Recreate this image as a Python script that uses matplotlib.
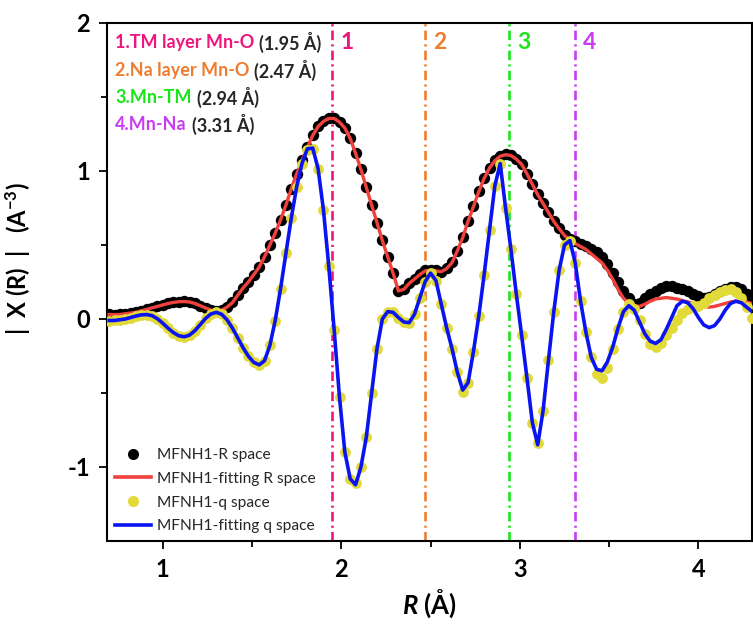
import numpy as np
import matplotlib
matplotlib.use("Agg")
import matplotlib.pyplot as plt
from matplotlib.lines import Line2D

plt.rcParams['font.family'] = ['Lato', 'DejaVu Sans']
plt.rcParams['mathtext.fontset'] = 'custom'
plt.rcParams['mathtext.rm'] = 'Lato:bold'
plt.rcParams['mathtext.it'] = 'Lato:bold:italic'
plt.rcParams['mathtext.bf'] = 'Lato:bold'

# ---------------- data ----------------
R_start, R_step, R_count = 0.70, 0.03, 121
R = np.round(R_start + R_step * np.arange(R_count), 3)

R_space = [0.032, 0.030, 0.031, 0.036, 0.041, 0.047, 0.056, 0.066,
           0.076, 0.086, 0.096, 0.106, 0.113, 0.118, 0.119,
           0.116, 0.106, 0.091, 0.076, 0.062, 0.052,
           0.060, 0.082, 0.112, 0.160, 0.210, 0.252, 0.300, 0.352,
           0.420, 0.500, 0.582, 0.672, 0.772, 0.880, 0.982, 1.072, 1.160,
           1.242, 1.302, 1.338, 1.358, 1.356, 1.332, 1.290, 1.222, 1.122,
           1.012, 0.892, 0.772, 0.652, 0.532, 0.422, 0.312, 0.192, 0.205,
           0.242, 0.272, 0.302, 0.328, 0.332,
           0.328, 0.318, 0.342, 0.382, 0.462, 0.552, 0.662, 0.762, 0.862,
           0.952, 1.022, 1.072, 1.102, 1.112, 1.108, 1.082, 1.048, 0.982,
           0.912, 0.842, 0.782, 0.722, 0.662, 0.612, 0.570, 0.540,
           0.530, 0.510, 0.490, 0.470, 0.450, 0.420, 0.370, 0.310, 0.250,
           0.190, 0.140, 0.100, 0.110, 0.140, 0.170, 0.190, 0.210, 0.220,
           0.220, 0.210, 0.200, 0.190, 0.170, 0.155, 0.145, 0.150, 0.170,
           0.190, 0.205, 0.215, 0.215, 0.200, 0.170, 0.140]

R_fit = [0.030, 0.030, 0.030, 0.035, 0.040, 0.045, 0.055, 0.065,
         0.075, 0.085, 0.095, 0.105, 0.112, 0.117, 0.118,
         0.115, 0.105, 0.090, 0.075, 0.060, 0.050,
         0.060, 0.080, 0.110, 0.160, 0.210, 0.250, 0.300, 0.350,
         0.420, 0.500, 0.580, 0.670, 0.770, 0.880, 0.980, 1.070, 1.160,
         1.240, 1.300, 1.335, 1.355, 1.355, 1.330, 1.290, 1.220, 1.120,
         1.010, 0.890, 0.770, 0.650, 0.530, 0.420, 0.310, 0.190, 0.200,
         0.240, 0.270, 0.300, 0.325, 0.330,
         0.325, 0.320, 0.340, 0.380, 0.460, 0.550, 0.660, 0.760, 0.860,
         0.950, 1.020, 1.070, 1.100, 1.110, 1.105, 1.080, 1.045, 0.980,
         0.910, 0.840, 0.780, 0.720, 0.660, 0.610, 0.565, 0.530,
         0.510, 0.490, 0.470, 0.440, 0.410, 0.380, 0.330, 0.270, 0.200,
         0.140, 0.110, 0.090, 0.085, 0.100, 0.120, 0.135, 0.140, 0.145,
         0.140, 0.135, 0.125, 0.115, 0.105, 0.095, 0.085, 0.080, 0.085,
         0.095, 0.105, 0.115, 0.122, 0.122, 0.115, 0.105]

q_space = [-0.012, -0.010, -0.006, 0.000, 0.010, 0.020, 0.027, 0.030,
           0.022, 0.003, -0.028, -0.062, -0.093, -0.113, -0.120,
           -0.110, -0.080, -0.038, 0.004, 0.033, 0.045,
           0.031, -0.006, -0.062, -0.128, -0.195, -0.252, -0.293, -0.312,
           -0.283, -0.178, -0.012, 0.205, 0.445, 0.680, 0.893, 1.050, 1.140,
           1.150, 1.016, 0.738, 0.355, -0.073, -0.530, -0.900, -1.080, -1.110,
           -1.000, -0.800, -0.500, -0.200, 0.000, 0.050,
           0.045, 0.010, -0.020, -0.025,
           0.032, 0.143, 0.253, 0.310,
           0.260, 0.100, -0.060, -0.200, -0.360, -0.490,
           -0.430, -0.220, 0.020, 0.300, 0.600, 0.900, 1.050,
           0.750, 0.470, 0.170, -0.110, -0.400, -0.700, -0.840,
           -0.620, -0.280, 0.050, 0.330, 0.500, 0.530,
           0.380, 0.120, -0.090, -0.260, -0.370, -0.400,
           -0.330, -0.200, -0.070, 0.050, 0.100,
           0.070, -0.010, -0.100, -0.170, -0.190,
           -0.160, -0.110, -0.060, -0.010, 0.040,
           0.070, 0.085, 0.090, 0.110, 0.140,
           0.160, 0.180, 0.195, 0.200, 0.185, 0.140, 0.080, 0.010]

q_fit = [-0.010, -0.010, -0.005, 0.000, 0.010, 0.020, 0.028, 0.030,
         0.023, 0.002, -0.028, -0.062, -0.092, -0.113, -0.120,
         -0.109, -0.079, -0.038, 0.004, 0.034, 0.045,
         0.032, -0.005, -0.061, -0.127, -0.194, -0.252, -0.293, -0.310,
         -0.282, -0.179, -0.010, 0.205, 0.445, 0.682, 0.893, 1.051, 1.150,
         1.155, 1.016, 0.738, 0.355, -0.073, -0.530, -0.900, -1.080, -1.120,
         -1.000, -0.800, -0.500, -0.200, 0.000, 0.050,
         0.045, 0.010, -0.020, -0.025,
         0.032, 0.143, 0.253, 0.310,
         0.260, 0.100, -0.060, -0.200, -0.360, -0.480,
         -0.430, -0.220, 0.020, 0.300, 0.600, 0.900, 1.050,
         0.750, 0.470, 0.170, -0.110, -0.400, -0.700, -0.850,
         -0.620, -0.280, 0.050, 0.330, 0.500, 0.530,
         0.380, 0.120, -0.090, -0.260, -0.340, -0.350,
         -0.290, -0.190, -0.060, 0.050, 0.090,
         0.060, -0.020, -0.100, -0.150, -0.165,
         -0.140, -0.070, 0.010, 0.090, 0.120,
         0.110, 0.070, 0.010, -0.040, -0.058,
         -0.045, 0.000, 0.060, 0.105, 0.120, 0.110, 0.080, 0.050]

shell_R = [1.95, 2.47, 2.94, 3.31]
shell_num = ["1", "2", "3", "4"]
shell_name = ["1.TM layer Mn-O", "2.Na layer Mn-O", "3.Mn-TM", "4.Mn-Na"]
shell_dist = ["(1.95 Å)", "(2.47 Å)", "(2.94 Å)", "(3.31 Å)"]
shell_colors = ["#F0147E", "#EE7D30", "#19E619", "#C93CF2"]

series_labels = ["MFNH1-R space", "MFNH1-fitting R space",
                 "MFNH1-q space", "MFNH1-fitting q space"]
xticks = [1, 2, 3, 4]
yticks = [-1, 0, 1, 2]

# ---------------- figure ----------------
fig = plt.figure(figsize=(7.53, 6.28), dpi=100)
ax = fig.add_axes([107 / 753, 1 - 541 / 628, 645 / 753, 518 / 628])

black_c = "#000000"
red_c = "#F0413C"
yellow_c = "#E2D93A"
blue_c = "#0A14F0"

ax.plot(R, R_space, 'o', color=black_c, ms=8.2, mew=0, zorder=2)
ax.plot(R, R_fit, '-', color=red_c, lw=2.4, zorder=3)
ax.plot(R, q_space, 'o', color=yellow_c, ms=7.8, mew=0, zorder=4)
ax.plot(R, q_fit, '-', color=blue_c, lw=2.6, zorder=5)

for xv, c in zip(shell_R, shell_colors):
    ax.axvline(xv, color=c, lw=1.9, ls=(0, (3.6, 1.6, 0.8, 1.6)), zorder=1)

ax.set_xlim(0.688, 4.30)
ax.set_ylim(-1.5, 2.0)
ax.set_xticks(xticks)
ax.set_xticks([1.5, 2.5, 3.5], minor=True)
ax.set_yticks(yticks)
ax.set_yticks([-0.5, 0.5, 1.5], minor=True)
ax.set_yticklabels([str(v) for v in yticks])
for s in ax.spines.values():
    s.set_linewidth(1.5)
ax.tick_params(which='major', direction='out', length=6, width=1.3,
               labelsize=17, pad=6, top=False, right=False)
ax.tick_params(which='minor', direction='out', length=4, width=1.3,
               top=False, right=False)
for lab in ax.get_xticklabels() + ax.get_yticklabels():
    lab.set_fontweight('bold')

ax.set_xlabel(r"$\mathit{R}$ (Å)", fontsize=18.5, fontweight='bold', labelpad=5)
ax.set_ylabel("|  X (R)  |   (A$^{-3}$)", fontsize=17, fontweight='bold',
              labelpad=14)
ax.yaxis.set_label_coords(-0.115, 0.545)

# shell number labels
for xv, num, c in zip(shell_R, shell_num, shell_colors):
    ax.text(xv + 0.045, 1.865, num, color=c, fontsize=16.5, fontweight='bold',
            va='center', ha='left')

# shell description text (two-colour)
fig.canvas.draw()
rend = fig.canvas.get_renderer()
rows_y = [1.865, 1.682, 1.496, 1.311]
for name, dist, c, yy in zip(shell_name, shell_dist, shell_colors, rows_y):
    t = ax.text(0.733, yy, name, color=c, fontsize=13, fontweight='bold',
                va='center', ha='left')
    bb = t.get_window_extent(renderer=rend)
    x_disp = bb.x1 + 5
    x_data = ax.transData.inverted().transform((x_disp, 0))[0]
    ax.text(x_data, yy, dist, color="#262626", fontsize=13,
            fontweight='bold', va='center', ha='left')

# legend
handles = [
    Line2D([], [], ls='none', marker='o', color=black_c, ms=8, mew=0),
    Line2D([], [], color=red_c, lw=2.6),
    Line2D([], [], ls='none', marker='o', color=yellow_c, ms=8, mew=0),
    Line2D([], [], color=blue_c, lw=2.6),
]
leg = ax.legend(handles, series_labels, loc='lower left',
                bbox_to_anchor=(0.0, 0.0), frameon=False, fontsize=11.2,
                handlelength=2.3, handletextpad=0.4, labelspacing=0.62,
                borderaxespad=0.2, borderpad=0.3)
for txt in leg.get_texts():
    txt.set_color("#262626")

fig.savefig("out.png", dpi=100)
